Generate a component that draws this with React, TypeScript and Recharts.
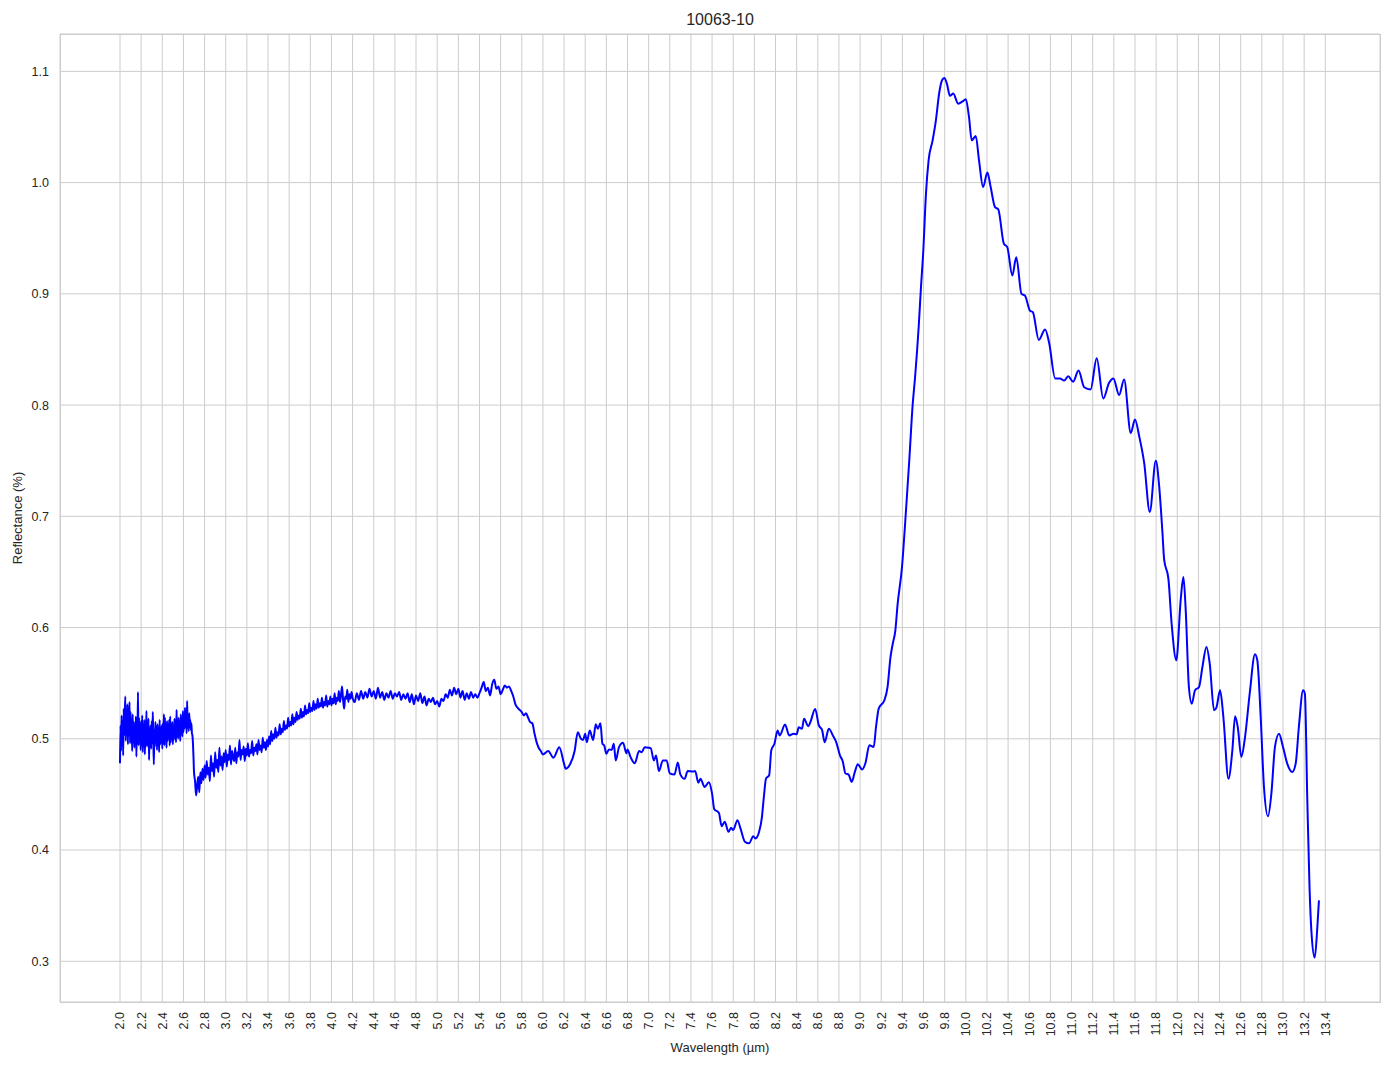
import React from 'react';
import { LineChart, Line, XAxis, YAxis, CartesianGrid } from 'recharts';

const chartTitle = '10063-10';
const xLabel = 'Wavelength (µm)';
const yLabel = 'Reflectance (%)';

// 2.000 – 2.700 µm, one reading every 0.005 µm (noisy detector start)
const noisyStart = 2.0;
const noisyStep = 0.005;
const noisyRefl = [
  0.478, 0.512, 0.489, 0.521, 0.497, 0.516, 0.485, 0.527, 0.503, 0.519,
  0.538, 0.498, 0.522, 0.506, 0.531, 0.495, 0.528, 0.509, 0.533, 0.496,
  0.524, 0.502, 0.518, 0.489, 0.522, 0.497, 0.515, 0.492, 0.511, 0.499,
  0.520, 0.484, 0.514, 0.498, 0.542, 0.494, 0.519, 0.501, 0.513, 0.490,
  0.516, 0.494, 0.521, 0.488, 0.511, 0.500, 0.517, 0.486, 0.509, 0.498,
  0.525, 0.493, 0.514, 0.502, 0.518, 0.481, 0.509, 0.497, 0.512, 0.491,
  0.516, 0.496, 0.524, 0.501, 0.477, 0.508, 0.493, 0.515, 0.499, 0.511,
  0.490, 0.513, 0.497, 0.509, 0.488, 0.517, 0.495, 0.506, 0.500, 0.512,
  0.491, 0.514, 0.496, 0.522, 0.494, 0.519, 0.501, 0.510, 0.492, 0.516,
  0.498, 0.513, 0.503, 0.517, 0.494, 0.520, 0.497, 0.511, 0.501, 0.515,
  0.495, 0.512, 0.499, 0.518, 0.503, 0.509, 0.497, 0.526, 0.502, 0.514,
  0.500, 0.519, 0.504, 0.511, 0.498, 0.522, 0.507, 0.516, 0.502, 0.525,
  0.506, 0.518, 0.509, 0.528, 0.511, 0.520, 0.505, 0.534, 0.510, 0.519,
  0.507, 0.523, 0.511, 0.517, 0.508, 0.514, 0.505, 0.503, 0.496, 0.484,
  0.470,
];

// 2.71 – 4.20 µm, every 0.01 µm
const riseStart = 2.71;
const riseStep = 0.01;
const riseRefl = [
  0.462, 0.449, 0.458, 0.466, 0.452, 0.470, 0.460, 0.473, 0.463, 0.476,
  0.465, 0.480, 0.468, 0.474, 0.462, 0.485, 0.471, 0.478, 0.466, 0.488,
  0.474, 0.481, 0.470, 0.492, 0.476, 0.484, 0.472, 0.487, 0.479, 0.490,
  0.475, 0.486, 0.481, 0.494, 0.477, 0.489, 0.483, 0.480, 0.492, 0.478,
  0.488, 0.484, 0.499, 0.481, 0.490, 0.486, 0.493, 0.480, 0.491, 0.485,
  0.496, 0.484, 0.490, 0.487, 0.498, 0.485, 0.492, 0.489, 0.495, 0.486,
  0.499, 0.490, 0.494, 0.488, 0.501, 0.492, 0.497, 0.490, 0.499, 0.493,
  0.502, 0.495, 0.507, 0.498, 0.504, 0.500, 0.510, 0.501, 0.506, 0.503,
  0.513, 0.504, 0.509, 0.506, 0.516, 0.508, 0.512, 0.509, 0.519, 0.511,
  0.515, 0.512, 0.522, 0.513, 0.519, 0.515, 0.524, 0.517, 0.521, 0.518,
  0.527, 0.519, 0.524, 0.520, 0.530, 0.522, 0.526, 0.523, 0.532, 0.524,
  0.528, 0.525, 0.534, 0.526, 0.531, 0.527, 0.536, 0.528, 0.532, 0.529,
  0.537, 0.528, 0.533, 0.530, 0.539, 0.529, 0.534, 0.531, 0.538, 0.530,
  0.536, 0.532, 0.541, 0.531, 0.537, 0.534, 0.543, 0.533, 0.539, 0.547,
  0.535, 0.527, 0.538, 0.536, 0.544, 0.533, 0.540, 0.536, 0.542, 0.537,
];

// 4.22 – 6.00 µm, every 0.02 µm
const plateauStart = 4.22;
const plateauStep = 0.02;
const plateauRefl = [
  0.533, 0.541, 0.535, 0.543, 0.536, 0.542, 0.537, 0.545, 0.538, 0.543,
  0.536, 0.546, 0.537, 0.542, 0.535, 0.541, 0.537, 0.543, 0.536, 0.541,
  0.538, 0.542, 0.535, 0.540, 0.536, 0.541, 0.533, 0.540, 0.531, 0.539,
  0.534, 0.541, 0.532, 0.538, 0.530, 0.536, 0.533, 0.537, 0.531, 0.534,
  0.529, 0.536, 0.534, 0.540, 0.537, 0.544, 0.539, 0.546, 0.540, 0.545,
  0.537, 0.543, 0.535, 0.541, 0.536, 0.542, 0.537, 0.540, 0.537, 0.541,
  0.546, 0.551, 0.543, 0.546, 0.539, 0.549, 0.553, 0.545, 0.547, 0.540,
  0.544, 0.548, 0.546, 0.547, 0.543, 0.538, 0.531, 0.528, 0.526, 0.524,
  0.521, 0.523, 0.519, 0.515, 0.514, 0.505, 0.497, 0.492, 0.489, 0.486,
];

// 6.05 – 13.34 µm, smoothed part
const tailWave = [
  6.05, 6.10, 6.155, 6.20, 6.215, 6.25, 6.30, 6.33, 6.36, 6.38,
  6.40, 6.415, 6.443, 6.475, 6.50, 6.52, 6.544, 6.563, 6.58, 6.60,
  6.625, 6.65, 6.67, 6.689, 6.72, 6.758, 6.79, 6.80, 6.827, 6.868,
  6.91, 6.935, 6.963, 7.00, 7.02, 7.05, 7.07, 7.097, 7.135, 7.17,
  7.20, 7.245, 7.276, 7.30, 7.34, 7.37, 7.42, 7.44, 7.47, 7.49,
  7.53, 7.57, 7.60, 7.62, 7.665, 7.69, 7.72, 7.755, 7.78, 7.80,
  7.84, 7.87, 7.91, 7.95, 7.99, 8.01, 8.045, 8.07, 8.09, 8.11,
  8.14, 8.16, 8.19, 8.22, 8.24, 8.29, 8.33, 8.37, 8.40, 8.42,
  8.45, 8.47, 8.51, 8.53, 8.575, 8.61, 8.64, 8.665, 8.704, 8.748,
  8.774, 8.81, 8.835, 8.862, 8.89, 8.921, 8.95, 8.978, 9.019, 9.05,
  9.088, 9.129, 9.15, 9.176, 9.23, 9.26, 9.287, 9.308, 9.333, 9.355,
  9.396, 9.434, 9.465, 9.497, 9.52, 9.554, 9.576, 9.598, 9.623, 9.648,
  9.686, 9.717, 9.749, 9.775, 9.796, 9.821, 9.85, 9.881, 9.928, 9.969,
  10.00, 10.03, 10.056, 10.094, 10.125, 10.163, 10.204, 10.235, 10.276, 10.307,
  10.36, 10.392, 10.44, 10.477, 10.527, 10.559, 10.606, 10.634, 10.69, 10.75,
  10.788, 10.845, 10.89, 10.93, 10.968, 11.015, 11.066, 11.12, 11.18, 11.238,
  11.30, 11.355, 11.396, 11.45, 11.497, 11.56, 11.60, 11.64, 11.687, 11.74,
  11.797, 11.829, 11.86, 11.876, 11.916, 11.947, 11.991, 12.032, 12.058, 12.08,
  12.11, 12.137, 12.168, 12.206, 12.238, 12.276, 12.307, 12.348, 12.37, 12.405,
  12.436, 12.484, 12.521, 12.547, 12.572, 12.606, 12.641, 12.685, 12.735, 12.757,
  12.789, 12.82, 12.858, 12.89, 12.924, 12.962, 13.00, 13.04, 13.088, 13.12,
  13.15, 13.19, 13.207, 13.23, 13.25, 13.27, 13.30, 13.325, 13.34,
];
const tailRefl = [
  0.489, 0.483, 0.4925, 0.4775, 0.473, 0.476, 0.489, 0.506, 0.500, 0.499,
  0.5045, 0.497, 0.5075, 0.499, 0.513, 0.509, 0.514, 0.4955, 0.494, 0.4866,
  0.4905, 0.490, 0.4955, 0.4806, 0.4925, 0.4964, 0.487, 0.4905, 0.484, 0.478,
  0.489, 0.488, 0.4925, 0.492, 0.4915, 0.4806, 0.485, 0.471, 0.4806, 0.4806,
  0.469, 0.468, 0.4788, 0.468, 0.464, 0.471, 0.4705, 0.471, 0.4606, 0.464,
  0.4567, 0.461, 0.4507, 0.437, 0.4334, 0.4215, 0.4254, 0.4164, 0.420, 0.418,
  0.4269, 0.419, 0.4075, 0.406, 0.4125, 0.4104, 0.4164, 0.4284, 0.4478, 0.4642,
  0.4672, 0.4896, 0.4955, 0.5075, 0.503, 0.5128, 0.503, 0.5045, 0.504, 0.5104,
  0.509, 0.518, 0.5113, 0.515, 0.5269, 0.512, 0.508, 0.497, 0.509, 0.502,
  0.497, 0.485, 0.480, 0.4688, 0.468, 0.4613, 0.470, 0.4772, 0.4724, 0.478,
  0.4942, 0.4927, 0.510, 0.5272, 0.5347, 0.5467, 0.573, 0.585, 0.597, 0.621,
  0.654, 0.705, 0.750, 0.800, 0.825, 0.870, 0.906, 0.939, 0.990, 1.020,
  1.038, 1.056, 1.081, 1.092, 1.094, 1.089, 1.078, 1.080, 1.071, 1.073,
  1.075, 1.059, 1.038, 1.042, 1.020, 0.996, 1.009, 0.996, 0.978, 0.976,
  0.945, 0.942, 0.9165, 0.933, 0.900, 0.8985, 0.885, 0.8835, 0.8586, 0.868,
  0.856, 0.824, 0.824, 0.822, 0.826, 0.821, 0.831, 0.816, 0.814, 0.842,
  0.806, 0.820, 0.824, 0.809, 0.823, 0.775, 0.787, 0.772, 0.748, 0.704,
  0.750, 0.727, 0.685, 0.661, 0.644, 0.603, 0.5706, 0.6245, 0.6455, 0.6155,
  0.5466, 0.5316, 0.5436, 0.5466, 0.5646, 0.5826, 0.5676, 0.5256, 0.528, 0.5436,
  0.5196, 0.4642, 0.4897, 0.5202, 0.5106, 0.4837, 0.5016, 0.5406, 0.576, 0.5706,
  0.5196, 0.4567, 0.4303, 0.4507, 0.4927, 0.5046, 0.4927, 0.4777, 0.4702, 0.4777,
  0.5106, 0.5436, 0.5406, 0.4447, 0.3698, 0.3249, 0.3033, 0.3309, 0.3548,
];

const xTicks = [
  2.0, 2.2, 2.4, 2.6, 2.8, 3.0, 3.2, 3.4, 3.6, 3.8,
  4.0, 4.2, 4.4, 4.6, 4.8, 5.0, 5.2, 5.4, 5.6, 5.8,
  6.0, 6.2, 6.4, 6.6, 6.8, 7.0, 7.2, 7.4, 7.6, 7.8,
  8.0, 8.2, 8.4, 8.6, 8.8, 9.0, 9.2, 9.4, 9.6, 9.8,
  10.0, 10.2, 10.4, 10.6, 10.8, 11.0, 11.2, 11.4, 11.6, 11.8,
  12.0, 12.2, 12.4, 12.6, 12.8, 13.0, 13.2, 13.4,
];
const yTicks = [0.3, 0.4, 0.5, 0.6, 0.7, 0.8, 0.9, 1.0, 1.1];

const stepped = (start: number, step: number, vals: number[]) =>
  vals.map((r, i) => ({ w: +(start + i * step).toFixed(3), r }));

const data = [
  ...stepped(noisyStart, noisyStep, noisyRefl),
  ...stepped(riseStart, riseStep, riseRefl),
  ...stepped(plateauStart, plateauStep, plateauRefl),
  ...tailWave.map((w, i) => ({ w, r: tailRefl[i] })),
];

const FONT = '"Liberation Sans", Arial, Helvetica, sans-serif';
const TEXT = '#262626';
const GRID = '#cccccc';

const XTick = (props: any) => {
  const { x, y, payload } = props;
  return (
    <text
      x={x}
      y={y}
      transform={`rotate(-90, ${x}, ${y})`}
      textAnchor="end"
      dy="0.35em"
      fontSize={12.5}
      fontFamily={FONT}
      fill={TEXT}
    >
      {Number(payload.value).toFixed(1)}
    </text>
  );
};

const App = () => {
  return (
    <div style={{ position: 'absolute', left: 0, top: 0, width: 1394, height: 1069, background: '#fff', fontFamily: FONT }}>
      <LineChart width={1394} height={1069} data={data} margin={{ top: 34, right: 14, bottom: 0, left: 0 }}>
        <CartesianGrid stroke={GRID} strokeWidth={1} />
        <XAxis
          dataKey="w"
          type="number"
          domain={[1.4325, 13.9175]}
          ticks={xTicks}
          interval={0}
          allowDataOverflow
          axisLine={false}
          tickLine={false}
          tickSize={0}
          tickMargin={10}
          height={67}
          tick={<XTick />}
        />
        <YAxis
          type="number"
          domain={[0.2634, 1.1336]}
          ticks={yTicks}
          interval={0}
          allowDataOverflow
          axisLine={false}
          tickLine={false}
          tickSize={0}
          tickMargin={11}
          width={60}
          tickFormatter={(v: number) => v.toFixed(1)}
          tick={{ fontSize: 12.5, fontFamily: FONT, fill: TEXT }}
        />
        <Line
          type="monotone"
          dataKey="r"
          stroke="#0000ff"
          strokeWidth={2}
          dot={false}
          isAnimationActive={false}
        />
      </LineChart>
      <div
        style={{
          position: 'absolute', left: 60, top: 34, width: 1321, height: 969,
          border: `1px solid ${GRID}`, boxSizing: 'border-box', pointerEvents: 'none',
        }}
      />
      <div style={{ position: 'absolute', left: 60, width: 1320, top: 10, textAlign: 'center', fontSize: 16, color: TEXT, lineHeight: '20px' }}>
        {chartTitle}
      </div>
      <div style={{ position: 'absolute', left: 60, width: 1320, top: 1040, textAlign: 'center', fontSize: 13, color: TEXT, lineHeight: '16px' }}>
        {xLabel}
      </div>
      <div
        style={{
          position: 'absolute', left: 18, top: 518, fontSize: 13, color: TEXT, lineHeight: '16px',
          whiteSpace: 'nowrap', transform: 'translate(-50%, -50%) rotate(-90deg)',
        }}
      >
        {yLabel}
      </div>
    </div>
  );
};

export default App;
